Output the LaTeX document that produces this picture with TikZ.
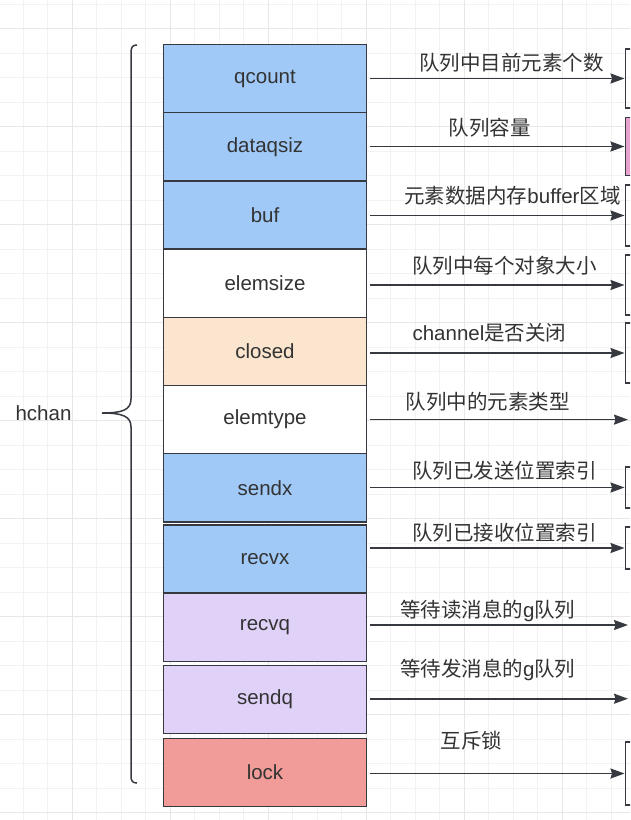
\documentclass[tikz,border=0pt]{standalone}
\usepackage{fontspec}
\setmainfont{Liberation Sans}
\newfontfamily\cjk{Noto Sans CJK SC}
\usetikzlibrary{positioning, calc, arrows.meta}
\definecolor{fieldblue}{RGB}{160,201,248}
\definecolor{fieldpeach}{RGB}{251,229,206}
\definecolor{fieldpurple}{RGB}{224,209,248}
\definecolor{fieldred}{RGB}{241,156,153}
\definecolor{nextpink}{RGB}{231,162,206}
\definecolor{darkline}{RGB}{54,57,64}
\definecolor{darktext}{RGB}{51,51,51}
\definecolor{gridminor}{RGB}{242,242,242}
\definecolor{gridmajor}{RGB}{231,231,231}
\newcommand{\fieldfont}{\fontsize{20.5}{24}\selectfont}

\begin{document}
\begin{tikzpicture}[
        x=1pt, y=-1pt,
        field/.style={rectangle, draw=darkline, line width=1.5pt, minimum width=203pt, minimum height=68.2pt, inner sep=0pt, outer sep=0pt, font=\fieldfont, text=darktext},
        nextbox/.style={rectangle, draw=darkline, line width=1.3pt, minimum width=40pt, anchor=west, inner sep=0pt, outer sep=0pt},
        link/.style={-{Stealth[length=14pt, width=10pt, inset=1.5pt]}, line width=1.6pt, darkline, shorten >=1pt},
        note/.style={font=\fieldfont, text=darktext, inner sep=0pt}
    ]
        \clip (0,0) rectangle (630,820);
        \fill[white] (0,0) rectangle (630,820);
        % background grid
        \begin{scope}[shift={(-26,28.5)}]
            \draw[gridminor, line width=0.8pt, step=24.5pt] (-50pt,50pt) grid (700pt,-850pt);
            \draw[gridmajor, line width=0.8pt, step=98pt] (-50pt,50pt) grid (700pt,-850pt);
        \end{scope}

        % hchan fields
        \node[field, fill=fieldblue, anchor=north west] (QCOUNT) at (163.5,44.5) {qcount};
        \node[field, fill=fieldblue, below=0pt of QCOUNT] (DATAQSIZ) {dataqsiz};
        \node[field, fill=fieldblue, below=0pt of DATAQSIZ] (BUF) {buf};
        \node[field, fill=white, below=0pt of BUF] (ELEMSIZE) {elemsize};
        \node[field, fill=fieldpeach, below=0pt of ELEMSIZE] (CLOSED) {closed};
        \node[field, fill=white, below=0pt of CLOSED] (ELEMTYPE) {elemtype};
        \node[field, fill=fieldblue, below=0pt of ELEMTYPE] (SENDX) {sendx};
        \node[field, fill=fieldblue, below=3pt of SENDX] (RECVX) {recvx};
        \node[field, fill=fieldpurple, below=0pt of RECVX] (RECVQ) {recvq};
        \node[field, fill=fieldpurple, below=4pt of RECVQ] (SENDQ) {sendq};
        \node[field, fill=fieldred, below=5pt of SENDQ] (LOCK) {lock};

        % boxes cut by the right edge
        \node[nextbox, minimum height=59pt] (QCOUNT2) at (625.5,78.5) {};
        \node[nextbox, minimum height=58pt, fill=nextpink] (DATAQSIZ2) at (625.5,146.5) {};
        \node[nextbox, minimum height=61pt] (BUF2) at (625.5,215.5) {};
        \node[nextbox, minimum height=60pt] (ELEMSIZE2) at (625.5,285) {};
        \node[nextbox, minimum height=60pt] (CLOSED2) at (625.5,353) {};
        \node[nextbox, minimum height=41pt] (SENDX2) at (625.5,487.5) {};
        \node[nextbox, minimum height=42pt] (RECVX2) at (625.5,548) {};
        \node[nextbox, minimum height=63pt] (LOCK2) at (625.5,773.5) {};
        \coordinate (ELEMTYPE2) at (629,419.6);
        \coordinate (RECVQ2) at (629,625);
        \coordinate (SENDQ2) at (629,698.7);

        \draw[link] ([xshift=3pt]QCOUNT.east |- QCOUNT2.west) -- (QCOUNT2.west) node[note, midway, xshift=14pt, yshift=16pt] (QCOUNTTXT) {\cjk 队列中目前元素个数};
        \draw[link] ([xshift=3pt]DATAQSIZ.east |- DATAQSIZ2.west) -- (DATAQSIZ2.west) node[note, midway, xshift=-8pt, yshift=18.5pt] (DATAQSIZTXT) {\cjk 队列容量};
        \draw[link] ([xshift=3pt]BUF.east |- BUF2.west) -- (BUF2.west) node[note, midway, xshift=15pt, yshift=20pt] (BUFTXT) {{\cjk 元素数据内存}buffer{\cjk 区域}};
        \draw[link] ([xshift=3pt]ELEMSIZE.east |- ELEMSIZE2.west) -- (ELEMSIZE2.west) node[note, midway, xshift=7pt, yshift=19pt] (ELEMSIZETXT) {\cjk 队列中每个对象大小};
        \draw[link] ([xshift=3pt]CLOSED.east |- CLOSED2.west) -- (CLOSED2.west) node[note, midway, xshift=-8pt, yshift=20pt] (CLOSEDTXT) {channel{\cjk 是否关闭}};
        \draw[link] ([xshift=3pt]ELEMTYPE.east |- ELEMTYPE2) -- (ELEMTYPE2) node[note, midway, xshift=-11.5pt, yshift=18pt] (ELEMTYPETXT) {\cjk 队列中的元素类型};
        \draw[link] ([xshift=3pt]SENDX.east |- SENDX2.west) -- (SENDX2.west) node[note, midway, xshift=7pt, yshift=17pt] (SENDXTXT) {\cjk 队列已发送位置索引};
        \draw[link] ([xshift=3pt]RECVX.east |- RECVX2.west) -- (RECVX2.west) node[note, midway, xshift=7pt, yshift=15pt] (RECVXTXT) {\cjk 队列已接收位置索引};
        \draw[link] ([xshift=3pt]RECVQ.east |- RECVQ2) -- (RECVQ2) node[note, midway, xshift=-11.5pt, yshift=14pt] (RECVQTXT) {{\cjk 等待读消息的}g{\cjk 队列}};
        \draw[link] ([xshift=3pt]SENDQ.east |- SENDQ2) -- (SENDQ2) node[note, midway, xshift=-11.5pt, yshift=29pt] (SENDQTXT) {{\cjk 等待发消息的}g{\cjk 队列}};
        \draw[link] ([xshift=3pt]LOCK.east |- LOCK2.west) -- (LOCK2.west) node[note, midway, xshift=-26pt, yshift=33pt] (LOCKTXT) {\cjk 互斥锁};

        % brace round the struct
        \coordinate (BRACETOP) at (137,45);
        \coordinate (BRACETIP) at (102,413);
        \coordinate (BRACEBOT) at (137,783);
        \draw[darkline, line width=1.5pt] (BRACETOP) .. controls (132.5,45) and (131,47) .. (131,53) -- (131,399) .. controls (131,410) and (122,413) .. (BRACETIP) .. controls (122,413) and (131,416) .. (131,427) -- (131,776) .. controls (131,781) and (132.5,783) .. (BRACEBOT);
        \node[note] (HCHAN) at (43.5,413) {hchan};
    \end{tikzpicture}
\end{document}
